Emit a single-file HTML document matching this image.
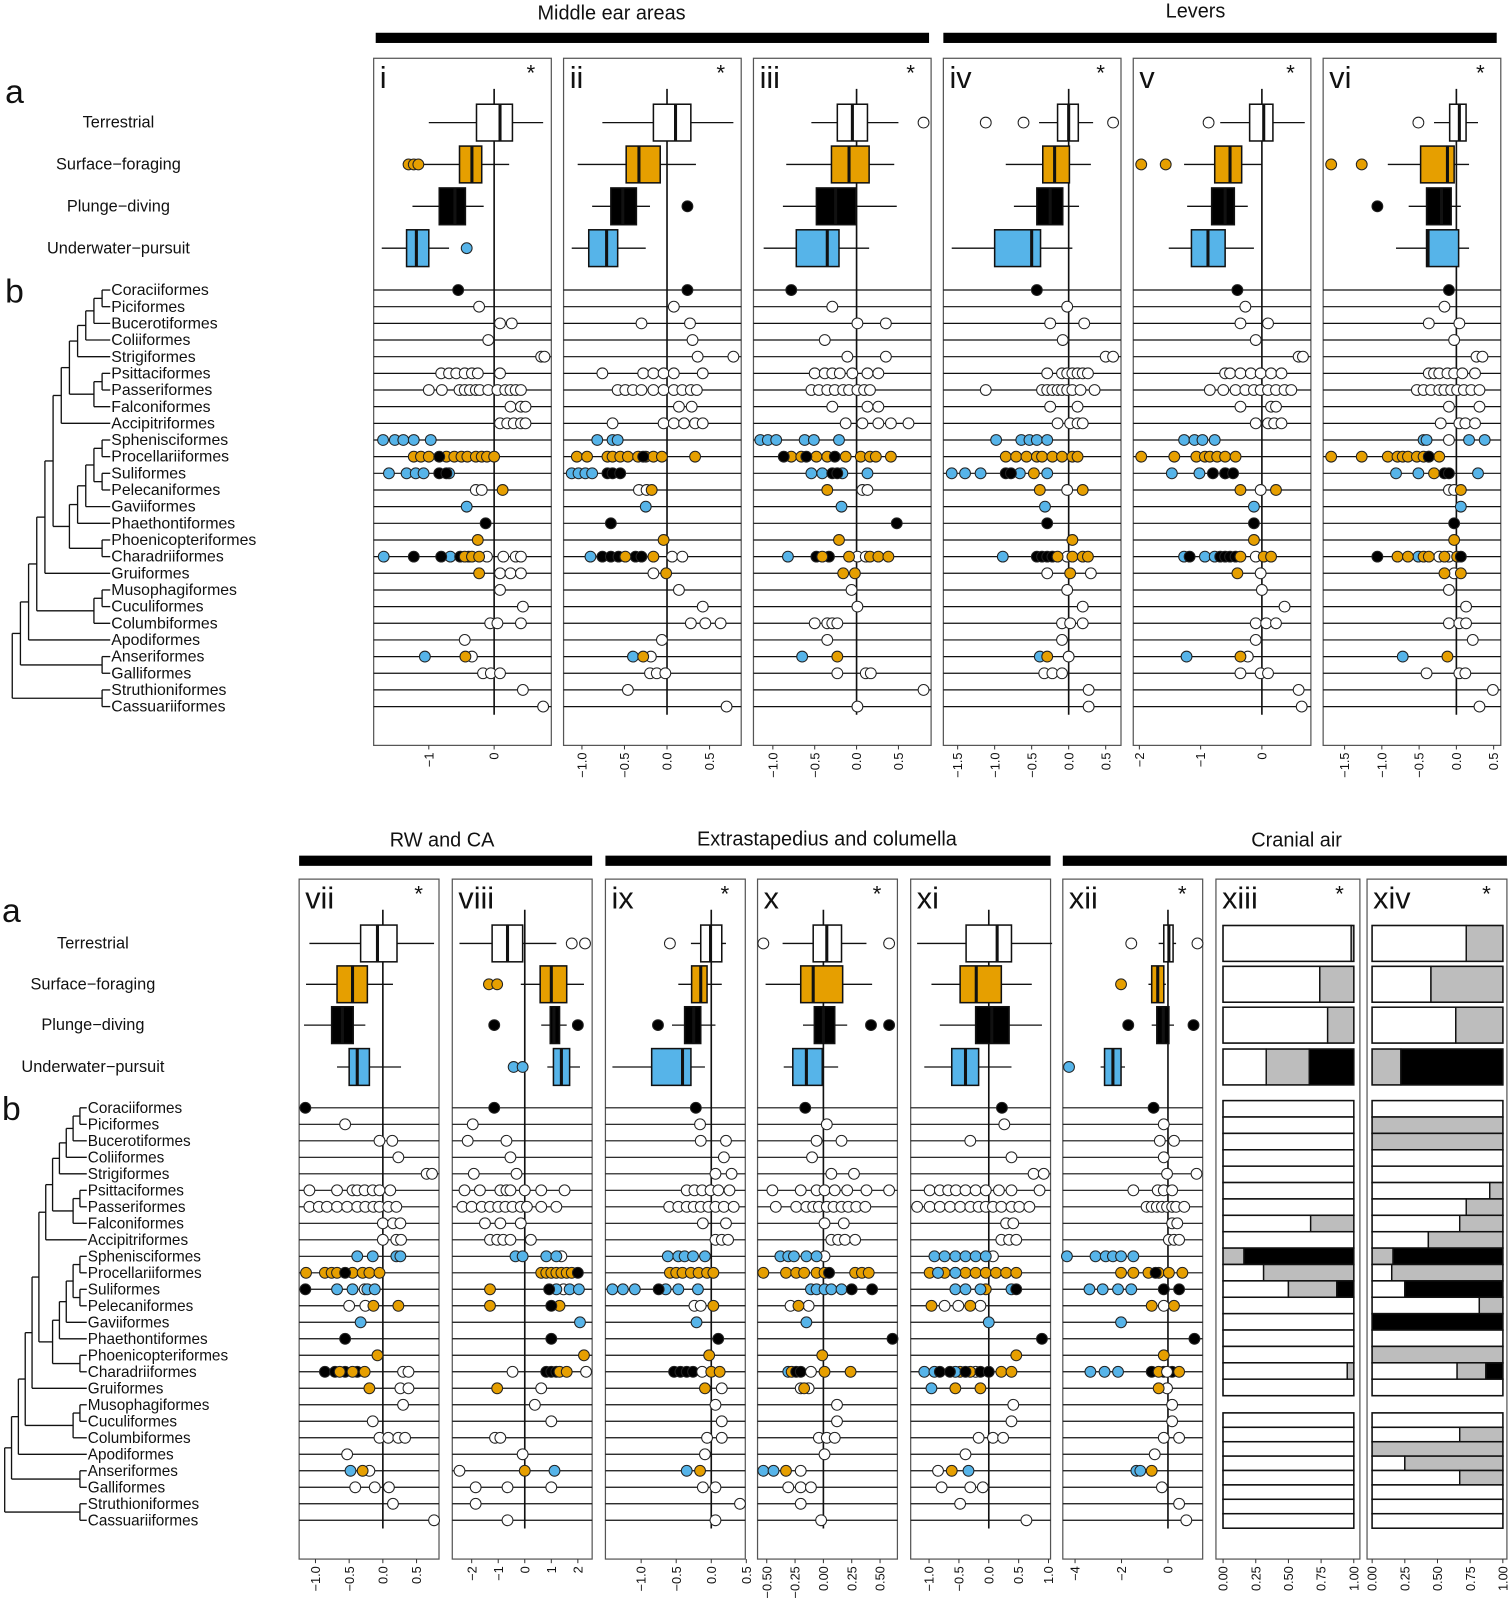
<!DOCTYPE html>
<html><head><meta charset="utf-8">
<style>
html,body{margin:0;padding:0;background:#fff;}
svg{display:block;font-family:"Liberation Sans",Arial,sans-serif;}
</style></head>
<body>
<svg id="fig" xmlns="http://www.w3.org/2000/svg" width="1511" height="1600" viewBox="0 0 1480 1567">
<g id="root"></g>
</svg>
<script>
// ---------------- DATA ----------------
const groups = ["Terrestrial","Surface\u2212foraging","Plunge\u2212diving","Underwater\u2212pursuit"];
const orders = ["Coraciiformes","Piciformes","Bucerotiformes","Coliiformes","Strigiformes","Psittaciformes","Passeriformes","Falconiformes","Accipitriformes","Sphenisciformes","Procellariiformes","Suliformes","Pelecaniformes","Gaviiformes","Phaethontiformes","Phoenicopteriformes","Charadriiformes","Gruiformes","Musophagiformes","Cuculiformes","Columbiformes","Apodiformes","Anseriformes","Galliformes","Struthioniformes","Cassuariiformes"];
// tree topology (leaf indices)
const cladeLand = [[[[[0,1],2],3],4],[[5,6],7]];
const cladeWater = [[[[[9,10],[11,12]],13],14],[15,16]];
const cladeA = [[cladeLand,8],cladeWater];
const cladeB = [cladeA,17];
const cladeC = [cladeB,[[18,19],20]];
const cladeD = [cladeC,21];
const cladeE = [cladeD,[22,23]];
const tree = [cladeE,[24,25]];

// panel i
const ticks_i=[-1,0], box_i=[[-1.0,-0.27,0.09,0.28,0.75],[-1.31,-0.53,-0.34,-0.19,0.23],[-1.25,-0.84,-0.6,-0.44,-0.16],[-1.72,-1.34,-1.19,-1.0,-0.69]];
const out_i=[[1,-1.31,-1.23,-1.16],[3,-0.42]];
const pts_i=[[0,'k',-0.55],[1,'w',-0.23],[2,'w',0.09,0.27],[3,'w',-0.09],[4,'w',0.72,0.77],[5,'w',-0.81,-0.69,-0.58,-0.45,-0.34,-0.25,0.09],[6,'w',-1,-0.8,-0.53,-0.45,-0.37,-0.28,-0.22,-0.09,0.05,0.17,0.25,0.33,0.41],[7,'w',0.25,0.41,0.48],[8,'w',0.09,0.2,0.3,0.41,0.48],[9,'b',-1.7,-1.52,-1.39,-1.23,-0.97],[10,'o',-1.23,-1.12,-1,-0.73,-0.61,-0.5,-0.41,-0.28,-0.19,-0.11,0],[10,'k',-0.84],[11,'b',-1.61,-1.34,-1.2,-1.08,-0.69],[11,'k',-0.84,-0.73],[12,'w',-0.28,-0.19],[12,'o',0.13],[13,'b',-0.42],[14,'k',-0.13],[15,'o',-0.25],[16,'b',-1.69,-0.67],[16,'w',-0.11,0.14,0.33,0.41],[16,'k',-1.23,-0.81,-0.52,-0.39],[16,'o',-0.45,-0.34,-0.23],[17,'w',0.09,0.25,0.41],[17,'o',-0.23],[18,'w',0.09],[19,'w',0.44],[20,'w',-0.06,0.05,0.41],[21,'w',-0.45],[22,'b',-1.06],[22,'w',-0.34],[22,'o',-0.44],[23,'w',-0.17,-0.05,0.09],[24,'w',0.44],[25,'w',0.75]];

// panel ii
const ticks_ii=[-1.0,-0.5,0.0,0.5], box_ii=[[-0.76,-0.16,0.1,0.28,0.78],[-1.05,-0.48,-0.33,-0.08,0.34],[-0.88,-0.66,-0.52,-0.36,-0.2],[-1.12,-0.92,-0.71,-0.58,-0.25]];
const out_ii=[[2,0.24]];
const pts_ii=[[0,'k',0.24],[1,'w',0.08],[2,'w',-0.3,0.27],[3,'w',0.3],[4,'w',0.36,0.78],[5,'w',-0.76,-0.28,-0.16,-0.04,0.08,0.42],[6,'w',-0.58,-0.49,-0.4,-0.3,-0.16,-0.04,0.08,0.18,0.28,0.35],[7,'w',0.14,0.29],[8,'w',-0.64,-0.04,0.08,0.2,0.33,0.42],[9,'b',-0.82,-0.64,-0.58],[10,'o',-1.06,-0.94,-0.7,-0.64,-0.55,-0.46,-0.34,-0.25,-0.16,-0.06,0.33],[10,'k',-0.28],[11,'b',-1.12,-1.04,-0.96,-0.88],[11,'k',-0.7,-0.64,-0.55],[12,'w',-0.33,-0.24],[12,'o',-0.18],[13,'b',-0.25],[14,'k',-0.66],[15,'o',-0.04],[16,'b',-0.9],[16,'w',0.06,0.18],[16,'k',-0.76,-0.66,-0.57,-0.37,-0.3],[16,'o',-0.49,-0.16],[17,'w',-0.16],[17,'o',-0.01],[18,'w',0.14],[19,'w',0.42],[20,'w',0.28,0.45,0.63],[21,'w',-0.06],[22,'b',-0.4],[22,'w',-0.19],[22,'o',-0.28],[23,'w',-0.2,-0.12,-0.02],[24,'w',-0.46],[25,'w',0.7]];

// panel iii
const ticks_iii=[-1.0,-0.5,0.0,0.5], box_iii=[[-0.54,-0.23,-0.05,0.13,0.5],[-0.84,-0.3,-0.09,0.15,0.45],[-0.88,-0.48,-0.25,-0.01,0.48],[-1.11,-0.72,-0.35,-0.21,0.15]];
const out_iii=[[0,0.8]];
const pts_iii=[[0,'k',-0.78],[1,'w',-0.29],[2,'w',0.01,0.35],[3,'w',-0.38],[4,'w',-0.11,0.35],[5,'w',-0.5,-0.38,-0.29,-0.2,-0.05,0.13,0.26],[6,'w',-0.54,-0.45,-0.35,-0.26,-0.16,-0.09,0.01,0.09,0.16],[7,'w',-0.29,0.13,0.26],[8,'w',-0.13,0.07,0.26,0.41,0.62],[9,'b',-1.15,-1.06,-0.96,-0.62,-0.51,-0.21],[10,'o',-0.78,-0.66,-0.48,-0.35,-0.13,0.05,0.16,0.23,0.41],[10,'k',-0.87,-0.6,-0.26],[11,'b',-0.54,-0.41,-0.17,0.13],[11,'k',-0.29,-0.23],[12,'o',-0.35],[12,'w',0.07,0.13],[13,'b',-0.18],[14,'k',0.48],[15,'o',-0.21],[16,'b',-0.82],[16,'w',0.01,0.11],[16,'k',-0.48,-0.33],[16,'o',-0.41,-0.09,0.16,0.26,0.38],[17,'o',-0.16,-0.02],[18,'w',-0.06],[19,'w',0.01],[20,'w',-0.5,-0.35,-0.29,-0.23],[21,'w',-0.35],[22,'b',-0.65],[22,'o',-0.23],[23,'w',-0.23,0.11,0.17],[24,'w',0.8],[25,'w',0.01]];

// panel iv
const ticks_iv=[-1.5,-1.0,-0.5,0.0,0.5], box_iv=[[-0.4,-0.15,0,0.13,0.33],[-0.85,-0.35,-0.19,0.01,0.3],[-0.74,-0.43,-0.25,-0.08,0.14],[-1.58,-1.0,-0.5,-0.38,0.05]];
const out_iv=[[0,-1.12,-0.61,0.6]];
const pts_iv=[[0,'k',-0.43],[1,'w',-0.02],[2,'w',-0.25,0.21],[3,'w',-0.08],[4,'w',0.5,0.6],[5,'w',-0.29,-0.09,-0.02,0.05,0.12,0.19,0.26],[6,'w',-1.12,-0.36,-0.29,-0.22,-0.15,-0.09,-0.02,0.05,0.16,0.35],[7,'w',-0.25,0.12],[8,'w',-0.15,0.02,0.12,0.19],[9,'b',-0.98,-0.64,-0.53,-0.43,-0.29],[10,'o',-0.85,-0.71,-0.57,-0.43,-0.36,-0.22,-0.09,0.05,0.12],[11,'b',-1.58,-1.4,-1.19,-0.66,-0.29],[11,'k',-0.85,-0.78],[11,'o',-0.47],[12,'w',-0.02],[12,'o',-0.39,0.19],[13,'b',-0.32],[14,'k',-0.29],[15,'o',0.05],[16,'b',-0.89],[16,'k',-0.43,-0.36,-0.29,-0.22],[16,'w',-0.02],[16,'o',-0.15,0.05,0.19,0.26],[17,'w',-0.29,0.3],[17,'o',0.02],[18,'w',-0.02],[19,'w',0.19],[20,'w',-0.09,0.02,0.19],[21,'w',-0.09],[22,'b',-0.39],[22,'w',0],[22,'o',-0.29],[23,'w',-0.33,-0.22,-0.09],[24,'w',0.27],[25,'w',0.27]];

// panel v
const ticks_v=[-2,-1,0], box_v=[[-0.68,-0.2,0.03,0.18,0.7],[-1.27,-0.77,-0.52,-0.33,0],[-1.22,-0.82,-0.6,-0.45,-0.23],[-1.52,-1.15,-0.88,-0.6,-0.13]];
const out_v=[[0,-0.87],[1,-1.97,-1.57]];
const pts_v=[[0,'k',-0.4],[1,'w',-0.27],[2,'w',-0.35,0.1],[3,'w',-0.1],[4,'w',0.6,0.67],[5,'w',-0.6,-0.52,-0.35,-0.18,-0.02,0.15,0.32],[6,'w',-0.85,-0.63,-0.43,-0.27,-0.13,-0.02,0.1,0.23,0.37,0.48],[7,'w',-0.35,0.15,0.23],[8,'w',-0.1,0.1,0.2,0.32],[9,'b',-1.27,-1.1,-0.97,-0.77],[10,'o',-1.97,-1.43,-1.07,-0.93,-0.85,-0.73,-0.6,-0.43],[11,'b',-1.47,-1.02,-0.6],[11,'k',-0.8,-0.6,-0.47],[12,'w',-0.02],[12,'o',-0.35,0.23],[13,'b',-0.13],[14,'k',-0.13],[15,'o',-0.13],[16,'b',-1.27,-0.93,-0.77],[16,'k',-1.18,-0.68,-0.6,-0.52,-0.43],[16,'w',-0.1],[16,'o',-0.35,0.03,0.15],[17,'w',-0.02],[17,'o',-0.4],[18,'w',0],[19,'w',0.37],[20,'w',-0.1,0.07,0.23],[21,'w',-0.1],[22,'b',-1.23],[22,'w',-0.23],[22,'o',-0.35],[23,'w',-0.35,-0.02,0.1],[24,'w',0.6],[25,'w',0.65]];

// panel vi
const ticks_vi=[-1.5,-1.0,-0.5,0.0,0.5], box_vi=[[-0.3,-0.09,0.04,0.13,0.29],[-0.92,-0.48,-0.12,-0.03,0.17],[-0.64,-0.4,-0.2,-0.07,0.06],[-0.81,-0.4,-0.38,0.03,0.17]];
const out_vi=[[0,-0.51],[1,-1.68,-1.27],[2,-1.06]];
const pts_vi=[[0,'k',-0.1],[1,'w',-0.16],[2,'w',-0.37,0.04],[3,'w',-0.03],[4,'w',0.27,0.35],[5,'w',-0.37,-0.3,-0.23,-0.12,-0.03,0.08,0.25],[6,'w',-0.53,-0.44,-0.34,-0.23,-0.16,-0.07,0.01,0.1,0.2,0.31],[7,'w',-0.1,0.31],[8,'w',-0.21,0.04,0.12,0.25],[9,'w',-0.1],[9,'b',-0.44,-0.4,0.17,0.38],[10,'o',-1.68,-1.27,-0.92,-0.79,-0.72,-0.65,-0.53,-0.44,-0.37,-0.23],[10,'k',-0.37],[11,'b',-0.81,-0.51,0.29],[11,'o',-0.3],[11,'k',-0.16,-0.1],[12,'w',-0.1,-0.03],[12,'o',0.06],[13,'b',0.06],[14,'k',-0.03],[15,'o',-0.03],[16,'w',-0.23,-0.1],[16,'b',-0.51],[16,'o',-0.79,-0.65,-0.44,-0.37,-0.16,0.01],[16,'k',-1.06,0.06],[17,'w',-0.03],[17,'o',-0.16,0.06],[18,'w',-0.1],[19,'w',0.13],[20,'w',-0.1,0.04,0.13],[21,'w',0.22],[22,'b',-0.72],[22,'o',-0.12],[23,'w',-0.4,0.04,0.12],[24,'w',0.49],[25,'w',0.31]];

// panel vii
const ticks_vii=[-1.0,-0.5,0.0,0.5], box_vii=[[-1.09,-0.33,-0.08,0.21,0.76],[-1.14,-0.68,-0.45,-0.23,0.15],[-1.17,-0.76,-0.6,-0.44,-0.26],[-0.68,-0.5,-0.38,-0.2,0.27]];
const out_vii=[];
const pts_vii=[[0,'k',-1.15],[1,'w',-0.56],[2,'w',-0.05,0.14],[3,'w',0.23],[4,'w',0.65,0.73],[5,'w',-1.09,-0.68,-0.45,-0.38,-0.27,-0.15,-0.05,0.11],[6,'w',-1.09,-0.95,-0.83,-0.68,-0.53,-0.38,-0.26,-0.14,-0.05,0.08,0.2],[7,'w',0,0.15,0.26],[8,'w',0,0.2,0.27],[9,'b',-0.38,-0.15,0.2,0.26],[10,'o',-1.14,-0.86,-0.76,-0.68,-0.45,-0.3,-0.2,-0.05],[10,'k',-0.56],[11,'k',-1.15],[11,'w',-0.27],[11,'b',-0.68,-0.45,-0.23,-0.12],[12,'w',-0.5,-0.26],[12,'o',-0.14,0.23],[13,'b',-0.33],[14,'k',-0.56],[15,'o',-0.08],[16,'k',-0.86,-0.71,-0.56,-0.38],[16,'o',-0.64,-0.45,-0.27],[16,'w',0.3,0.38],[17,'w',0.26,0.38],[17,'o',-0.2],[18,'w',0.3],[19,'w',-0.15],[20,'w',-0.05,0.08,0.23,0.33],[21,'w',-0.53],[22,'w',-0.2],[22,'b',-0.48],[22,'o',-0.3],[23,'w',-0.41,-0.12,0.09],[24,'w',0.15],[25,'w',0.76]];

// panel viii
const ticks_viii=[-2,-1,0,1,2], box_viii=[[-2.46,-1.23,-0.65,-0.08,1.19],[-0.15,0.58,1.0,1.58,2.23],[0.62,0.96,1.1,1.31,1.58],[0.85,1.08,1.38,1.69,2.08]];
const out_viii=[[0,1.77,2.27],[1,-1.35,-1.04],[2,-1.15,2.0],[3,-0.42,-0.08]];
const pts_viii=[[0,'k',-1.15],[1,'w',-1.96],[2,'w',-2.15,-0.69],[3,'w',-0.54],[4,'w',-1.92,-0.31],[5,'w',-2.27,-1.69,-0.92,-0.69,-0.54,0,0.62,1.5],[6,'w',-2.35,-2,-1.62,-1.31,-1,-0.73,-0.46,-0.15,0.08,0.62,1.19],[7,'w',-1.5,-0.92,-0.15],[8,'w',-1.31,-1.04,-0.81,-0.54,0.23],[9,'w',1.38],[9,'b',-0.35,-0.08,0.81,1.19],[10,'o',0.62,0.81,1.0,1.19,1.38,1.58,1.77],[10,'k',2.0],[11,'w',1.46],[11,'o',-1.31],[11,'b',1.19,1.69,2.04],[11,'k',0.92],[12,'o',-1.31,1.31],[12,'k',1.0],[13,'b',2.08],[14,'k',1.0],[15,'o',2.23],[16,'w',-0.46,2.31],[16,'k',0.81,1.0,1.19],[16,'o',1.31,1.58],[17,'o',-1.04],[17,'w',0.62],[18,'w',0.38],[19,'w',1.0],[20,'w',-1.12,-0.92],[21,'w',-0.08],[22,'w',-2.46],[22,'o',0],[22,'b',1.12],[23,'w',-1.85,-0.65,1.0],[24,'w',-1.85],[25,'w',-0.65]];

// panel ix
const ticks_ix=[-1.0,-0.5,0.0,0.5], box_ix=[[-0.29,-0.15,-0.01,0.15,0.21],[-0.47,-0.28,-0.15,-0.06,0.15],[-0.56,-0.38,-0.25,-0.15,0.06],[-1.41,-0.85,-0.41,-0.29,-0.09]];
const out_ix=[[0,-0.59],[2,-0.76]];
const pts_ix=[[0,'k',-0.22],[1,'w',-0.16],[2,'w',-0.15,0.21],[3,'w',0.18],[4,'w',0.06,0.29],[5,'w',-0.35,-0.24,-0.13,-0.01,0.1,0.26],[6,'w',-0.6,-0.47,-0.35,-0.25,-0.15,-0.04,0.06,0.18,0.32],[7,'w',-0.12,0.21],[8,'w',0.06,0.15,0.24],[9,'b',-0.62,-0.47,-0.38,-0.26,-0.09],[10,'o',-0.59,-0.5,-0.41,-0.29,-0.18,-0.06,0.03],[11,'b',-1.41,-1.26,-1.09,-0.65,-0.47,-0.19],[11,'k',-0.75],[12,'w',-0.24,-0.15],[12,'o',0.03],[13,'b',-0.21],[14,'k',0.1],[15,'o',-0.03],[16,'k',-0.53,-0.44,-0.35,-0.26],[16,'w',-0.13],[16,'o',0,0.12],[17,'w',0.15],[17,'o',-0.09],[18,'w',0.06],[19,'w',0.15],[20,'w',-0.06,0.15],[21,'w',-0.09],[22,'b',-0.35],[22,'o',-0.16],[23,'w',-0.12,0.06],[24,'w',0.41],[25,'w',0.06]];

// panel x
const ticks_x=[-0.50,-0.25,0.00,0.25,0.50], box_x=[[-0.36,-0.09,0.03,0.16,0.38],[-0.51,-0.2,-0.09,0.17,0.43],[-0.18,-0.08,0.0,0.1,0.21],[-0.35,-0.27,-0.15,-0.01,0.13]];
const out_x=[[0,-0.53,0.58],[2,0.42,0.58]];
const pts_x=[[0,'k',-0.16],[1,'w',0.03],[2,'w',-0.06,0.16],[3,'w',-0.1],[4,'w',0.07,0.27],[5,'w',-0.45,-0.2,-0.06,0.01,0.1,0.21,0.38,0.58],[6,'w',-0.42,-0.24,-0.15,-0.09,-0.04,0.03,0.09,0.16,0.22,0.29,0.37],[7,'w',0.01,0.18],[8,'w',0.07,0.13,0.19,0.28],[9,'w',0.01],[9,'b',-0.38,-0.31,-0.26,-0.15,-0.06],[10,'o',-0.53,-0.33,-0.24,-0.17,-0.06,0.01,0.28,0.34,0.4],[10,'k',0.05],[11,'b',-0.11,-0.06,0.01,0.07,0.16],[11,'k',0.25,0.43],[12,'w',-0.29,-0.13],[12,'o',-0.22],[13,'b',-0.15],[14,'k',0.61],[15,'o',-0.01],[16,'b',-0.31],[16,'o',-0.28,0.01,0.24],[16,'k',-0.24,-0.2],[16,'w',-0.11],[17,'w',-0.2,-0.13],[17,'o',-0.17],[18,'w',0.12],[19,'w',0.12],[20,'w',-0.04,0.03,0.1],[21,'w',0.01],[22,'b',-0.53,-0.44],[22,'o',-0.33],[22,'w',-0.2],[23,'w',-0.31,-0.2,-0.11],[24,'w',-0.2],[25,'w',-0.02]];

// panel xi
const ticks_xi=[-1.0,-0.5,0.0,0.5,1.0], box_xi=[[-1.2,-0.38,0.14,0.38,1.06],[-0.96,-0.48,-0.21,0.21,0.72],[-0.82,-0.22,0.05,0.34,0.89],[-1.08,-0.62,-0.39,-0.17,0.38]];
const out_xi=[];
const pts_xi=[[0,'k',0.22],[1,'w',0.26],[2,'w',-0.31],[3,'w',0.38],[4,'w',0.75,0.92],[5,'w',-0.99,-0.82,-0.68,-0.55,-0.39,-0.22,-0.05,0.17,0.38,0.85],[6,'w',-1.2,-0.99,-0.82,-0.65,-0.48,-0.31,-0.17,-0.05,0.07,0.21,0.38,0.51,0.68],[7,'w',0.29,0.41],[8,'w',0.21,0.34,0.46],[9,'w',0.07],[9,'b',-0.91,-0.74,-0.56,-0.39,-0.22,-0.05],[10,'o',-0.99,-0.85,-0.74,-0.56,-0.39,-0.22,-0.05,0.12,0.29,0.46],[10,'b',-0.85,-0.56],[11,'o',-0.05],[11,'b',-0.56,-0.39,-0.14,0.38],[11,'k',0.46],[12,'w',-0.74,-0.51,-0.14],[12,'o',-0.96,-0.31],[13,'b',0],[14,'k',0.89],[15,'o',0.46],[16,'w',-0.22],[16,'o',-0.48,-0.31,0.21,0.38],[16,'b',-1.08,-0.91,-0.56],[16,'k',-0.82,-0.65,-0.39,-0.14,0],[17,'b',-0.96],[17,'o',-0.56,-0.14],[18,'w',0.41],[19,'w',0.38],[20,'w',-0.17,0.07,0.24],[21,'w',-0.39],[22,'w',-0.85],[22,'o',-0.62],[22,'b',-0.34],[23,'w',-0.79,-0.31,-0.1],[24,'w',-0.48],[25,'w',0.63]];

// panel xii
const ticks_xii=[-4,-2,0], box_xii=[[-0.4,-0.18,0.04,0.22,0.35],[-0.84,-0.7,-0.44,-0.18,-0.09],[-0.7,-0.48,-0.2,0.04,0.26],[-2.9,-2.73,-2.37,-2.02,-1.85]];
const out_xii=[[0,-1.58,1.27],[1,-2.02],[2,-1.71,1.1],[3,-4.26]];
const pts_xii=[[0,'k',-0.62],[1,'w',-0.18],[2,'w',-0.35,0.26],[3,'w',-0.18],[4,'w',-0.04,1.23],[5,'w',-1.49,-0.44,-0.18,0.18],[6,'w',-0.92,-0.7,-0.48,-0.26,-0.04,0.18,0.35,0.7],[7,'w',0.18,0.4],[8,'w',0.04,0.26,0.48],[9,'b',-4.35,-3.12,-2.68,-2.37,-2.02,-1.49],[10,'o',-2.02,-1.49,-0.84,-0.4,0.04,0.62],[10,'k',-0.53],[11,'b',-3.38,-2.81,-2.15,-1.58],[11,'k',-0.18,0.48],[12,'w',-0.18],[12,'o',-0.7,0.26],[13,'b',-2.02],[14,'k',1.14],[15,'o',-0.18],[16,'b',-3.34,-2.73,-2.15],[16,'k',-0.7,-0.18,0.18],[16,'o',-0.4,0.48],[16,'w',-0.04],[17,'w',-0.04],[17,'o',-0.4],[18,'w',0.18],[19,'w',0.18],[20,'w',-0.18,0.48],[21,'w',-0.57],[22,'b',-1.36,-1.19],[22,'o',-0.7],[23,'w',-0.26],[24,'w',0.48],[25,'w',0.79]];

// panels xiii / xiv: proportions [white, grey, black]
const ticks_frac=[0.00,0.25,0.50,0.75,1.00];
const grp_xiii=[[0.98,0.02,0],[0.74,0.26,0],[0.8,0.2,0],[0.33,0.33,0.34]];
const ord_xiii=[[1,0,0],[1,0,0],[1,0,0],[1,0,0],[1,0,0],[1,0,0],[1,0,0],[0.67,0.33,0],[1,0,0],[0,0.16,0.84],[0.31,0.69,0],[0.5,0.37,0.13],[1,0,0],[1,0,0],[1,0,0],[1,0,0],[0.95,0.05,0],[1,0,0],[1,0,0],[1,0,0],[1,0,0],[1,0,0],[1,0,0],[1,0,0],[1,0,0],[1,0,0]];
const grp_xiv=[[0.72,0.28,0],[0.45,0.55,0],[0.64,0.36,0],[0,0.22,0.78]];
const ord_xiv=[[1,0,0],[0,1,0],[0,1,0],[1,0,0],[1,0,0],[0.9,0.1,0],[0.72,0.28,0],[0.67,0.33,0],[0.43,0.57,0],[0,0.16,0.84],[0.15,0.85,0],[0.25,0,0.75],[0.82,0.18,0],[0,0,1],[1,0,0],[0,1,0],[0.65,0.22,0.13],[1,0,0],[1,0,0],[0.67,0.33,0],[0,1,0],[0.25,0.75,0],[0.67,0.33,0],[1,0,0],[1,0,0],[1,0,0]];

// ---------------- DRAW ----------------
const NS='http://www.w3.org/2000/svg';
const rootG=document.getElementById('root');
function el(tag,attrs,parent){const e=document.createElementNS(NS,tag);for(const k in attrs)e.setAttribute(k,attrs[k]);(parent||rootG).appendChild(e);return e;}
const COL={w:'#ffffff',o:'#E69F00',k:'#000000',b:'#56B4E9'};
const GCOL=['#ffffff','#E69F00','#000000','#56B4E9'];
const GC=['w','o','k','b'];
function fmt(v,t){
  let dec=0;
  t.forEach(x=>{const s=String(Math.abs(x));const i=s.indexOf('.');if(i>=0)dec=Math.max(dec,s.length-i-1);});
  if(dec===0&&t.some(x=>!Number.isInteger(x)))dec=1;
  return (v<0?'\u2212':'')+Math.abs(v).toFixed(dec);
}

function header(txt,x0,x1,tx,ty,by,name){
  const t=el('text',{x:tx,y:ty,'text-anchor':'middle','font-size':19.5,fill:'#111'});t.textContent=txt;
  
  
  const r=el('rect',{x:x0,y:by,width:x1-x0,height:10,fill:'#000'});
  
  
}

function drawTree(leafX,rowY,step,fs,name){
  const g=el('g',{});
  
  
  function lay(n){
    if(typeof n==='number'){return {h:0,y:rowY(n)};}
    const a=lay(n[0]),b=lay(n[1]);const h=Math.max(a.h,b.h)+1;const x=leafX-step*h;
    el('line',{x1:x,y1:a.y,x2:leafX-step*a.h,y2:a.y,stroke:'#111','stroke-width':1.3},g);
    el('line',{x1:x,y1:b.y,x2:leafX-step*b.h,y2:b.y,stroke:'#111','stroke-width':1.3},g);
    el('line',{x1:x,y1:a.y,x2:x,y2:b.y,stroke:'#111','stroke-width':1.3},g);
    return {h:h,y:(a.y+b.y)/2};
  }
  lay(tree);
  orders.forEach((o,i)=>{const t=el('text',{x:leafX+1,y:rowY(i)+5,'font-size':fs,fill:'#111'},g);t.textContent=o;
    
    });
}

function groupLabels(cx,ys,fs){
  groups.forEach((gname,i)=>{const t=el('text',{x:cx,y:ys[i]+5,'text-anchor':'middle','font-size':fs,fill:'#111'});t.textContent=gname;
    
    });
}

function panelFrame(g,x0,x1,y0,y1,num,star){
  el('rect',{x:x0,y:y0,width:x1-x0,height:y1-y0,fill:'none',stroke:'#555','stroke-width':1.2},g);
  const t=el('text',{x:x0+6,y:y0+29,'font-size':30,fill:'#111'},g);t.textContent=num;
  
  
  if(star){const s=el('text',{x:x1-20,y:y0+22,'font-size':22,'text-anchor':'middle',fill:'#111'},g);s.textContent='*';
    
    }
}

function axisLabels(g,ticks,sx,y1){
  ticks.forEach(v=>{
    el('line',{x1:sx(v),y1:y1,x2:sx(v),y2:y1+4,stroke:'#333','stroke-width':1},g);
    const tx=el('text',{x:0,y:0,'font-size':12.5,'text-anchor':'end',fill:'#111',transform:'translate('+(sx(v)+4.5)+','+(y1+7)+') rotate(-90)'},g);
    tx.textContent=fmt(v,ticks);
    
    
  });
}

function boxPanel(cfg){
  const g=el('g',{});
  
  
  const ticks=cfg.ticks, t0=ticks[0], t1=ticks[ticks.length-1];
  const sx=v=>cfg.pA+(v-t0)*(cfg.pB-cfg.pA)/(t1-t0);
  const rowY=cfg.rowY, boxY=cfg.boxY, bh=cfg.bh;
  panelFrame(g,cfg.x0,cfg.x1,cfg.y0,cfg.y1,cfg.num,cfg.star);
  orders.forEach((o,i)=>{el('line',{x1:cfg.x0,y1:rowY(i),x2:cfg.x1,y2:rowY(i),stroke:'#111','stroke-width':1.2},g);});
  const zl=el('line',{x1:sx(0),y1:boxY[0]-bh/2-15,x2:sx(0),y2:rowY(25)+8,stroke:'#111','stroke-width':1.6},g);
  
  
  cfg.box.forEach((b,i)=>{
    const y=boxY[i];
    const bg=el('g',{},g);
    
    
    el('line',{x1:sx(b[0]),y1:y,x2:sx(b[4]),y2:y,stroke:'#111','stroke-width':1.3},bg);
    el('rect',{x:sx(b[1]),y:y-bh/2,width:sx(b[3])-sx(b[1]),height:bh,fill:GCOL[i],stroke:'#111','stroke-width':1.5},bg);
    el('line',{x1:sx(b[2]),y1:y-bh/2,x2:sx(b[2]),y2:y+bh/2,stroke:'#111','stroke-width':3},bg);
  });
  cfg.outl.forEach(o=>{const gi=o[0];for(let k=1;k<o.length;k++){const c=el('circle',{cx:sx(o[k]),cy:boxY[gi],r:5.3,fill:GCOL[gi],stroke:'#222','stroke-width':1},g);
    
    }});
  cfg.pts.forEach(p=>{const r=p[0],c=p[1];for(let k=2;k<p.length;k++){const ci=el('circle',{cx:sx(p[k]),cy:rowY(r),r:5.3,fill:COL[c],stroke:'#222','stroke-width':1},g);
    
    }});
  axisLabels(g,ticks,sx,cfg.y1);
}

function fracPanel(cfg){
  const g=el('g',{});
  
  
  panelFrame(g,cfg.x0,cfg.x1,cfg.y0,cfg.y1,cfg.num,true);
  const sx=v=>cfg.pA+v*(cfg.pB-cfg.pA);
  const cols=['#fff','#bdbdbd','#000'];
  function seg(fr,y,h,nm){
    let acc=0;
    el('rect',{x:sx(0),y:y,width:sx(1)-sx(0),height:h,fill:'#fff',stroke:'#111','stroke-width':1.6},g);
    fr.forEach((f,j)=>{if(f>0){const r=el('rect',{x:sx(acc),y:y,width:sx(acc+f)-sx(acc),height:h,fill:cols[j],stroke:'#111','stroke-width':1.4},g);
      
      }acc+=f;});
  }
  cfg.grp.forEach((fr,i)=>seg(fr,cfg.boxY[i]-17.5,35,'group-proportion-bar'));
  const y0=cfg.rowY(0)-7;
  cfg.ord.forEach((fr,i)=>{const y=i<18?y0+i*16.05:y0+18*16.05+17+(i-18)*14.1;seg(fr,y,i<18?16.05:14.1,'order-proportion-bar');});
  axisLabels(g,ticks_frac,sx,cfg.y1);
}

// ---- top figure ----
const topRow=i=>284+16.32*i, topBox=[120,161,202,243];
const a1=el('text',{x:5,y:101,'font-size':33,fill:'#111'});a1.textContent='a';


const b1=el('text',{x:5,y:296,'font-size':33,fill:'#111'});b1.textContent='b';


groupLabels(116,topBox,16);
drawTree(108,topRow,8,15.5,'phylogeny-top');
header('Middle ear areas',368,910,599,19,32,'middle-ear-areas');
header('Levers',924,1466,1171,17,32,'levers');
const tp=[
 ['i',366,540,ticks_i,420,484,box_i,out_i,pts_i,true],
 ['ii',552,726,ticks_ii,570,695,box_ii,out_ii,pts_ii,true],
 ['iii',738,912,ticks_iii,757,880,box_iii,out_iii,pts_iii,true],
 ['iv',924,1098,ticks_iv,938,1083,box_iv,out_iv,pts_iv,true],
 ['v',1110,1284,ticks_v,1116,1236,box_v,out_v,pts_v,true],
 ['vi',1296,1470,ticks_vi,1317,1463,box_vi,out_vi,pts_vi,true]];
tp.forEach(p=>boxPanel({name:p[0],num:p[0],x0:p[1],x1:p[2],y0:57,y1:730,ticks:p[3],pA:p[4],pB:p[5],box:p[6],outl:p[7],pts:p[8],star:p[9],boxY:topBox,rowY:topRow,bh:36}));

// ---- bottom figure ----
const botRow=i=>1085+16.16*i, botBox=[924,964,1004,1045];
const a2=el('text',{x:2,y:903,'font-size':33,fill:'#111'});a2.textContent='a';


const b2=el('text',{x:2,y:1097,'font-size':33,fill:'#111'});b2.textContent='b';


groupLabels(91,botBox,16);
drawTree(85,botRow,6.7,15,'phylogeny-bottom');
header('RW and CA',293,580,433,829,838,'rw-and-ca');
header('Extrastapedius and columella',593,1029,810,828,838,'extrastapedius-columella');
header('Cranial air',1041,1476,1270,829,838,'cranial-air');
const bp=[
 ['vii',293,430,ticks_vii,309,408,box_vii,out_vii,pts_vii,true],
 ['viii',443,580,ticks_viii,462,566,box_viii,out_viii,pts_viii,false],
 ['ix',593,730,ticks_ix,628,731,box_ix,out_ix,pts_ix,true],
 ['x',742,879,ticks_x,751,862,box_x,out_x,pts_x,true],
 ['xi',892,1029,ticks_xi,910,1027,box_xi,out_xi,pts_xi,false],
 ['xii',1041,1178,ticks_xii,1053,1144,box_xii,out_xii,pts_xii,true]];
bp.forEach(p=>boxPanel({name:p[0],num:p[0],x0:p[1],x1:p[2],y0:861,y1:1527,ticks:p[3],pA:p[4],pB:p[5],box:p[6],outl:p[7],pts:p[8],star:p[9],boxY:botBox,rowY:botRow,bh:36}));
fracPanel({name:'xiii',num:'xiii',x0:1191,x1:1332,y0:861,y1:1527,pA:1198,pB:1326,grp:grp_xiii,ord:ord_xiii,boxY:botBox,rowY:botRow});
fracPanel({name:'xiv',num:'xiv',x0:1339,x1:1476,y0:861,y1:1527,pA:1344,pB:1472,grp:grp_xiv,ord:ord_xiv,boxY:botBox,rowY:botRow});
</script>
</body></html>
